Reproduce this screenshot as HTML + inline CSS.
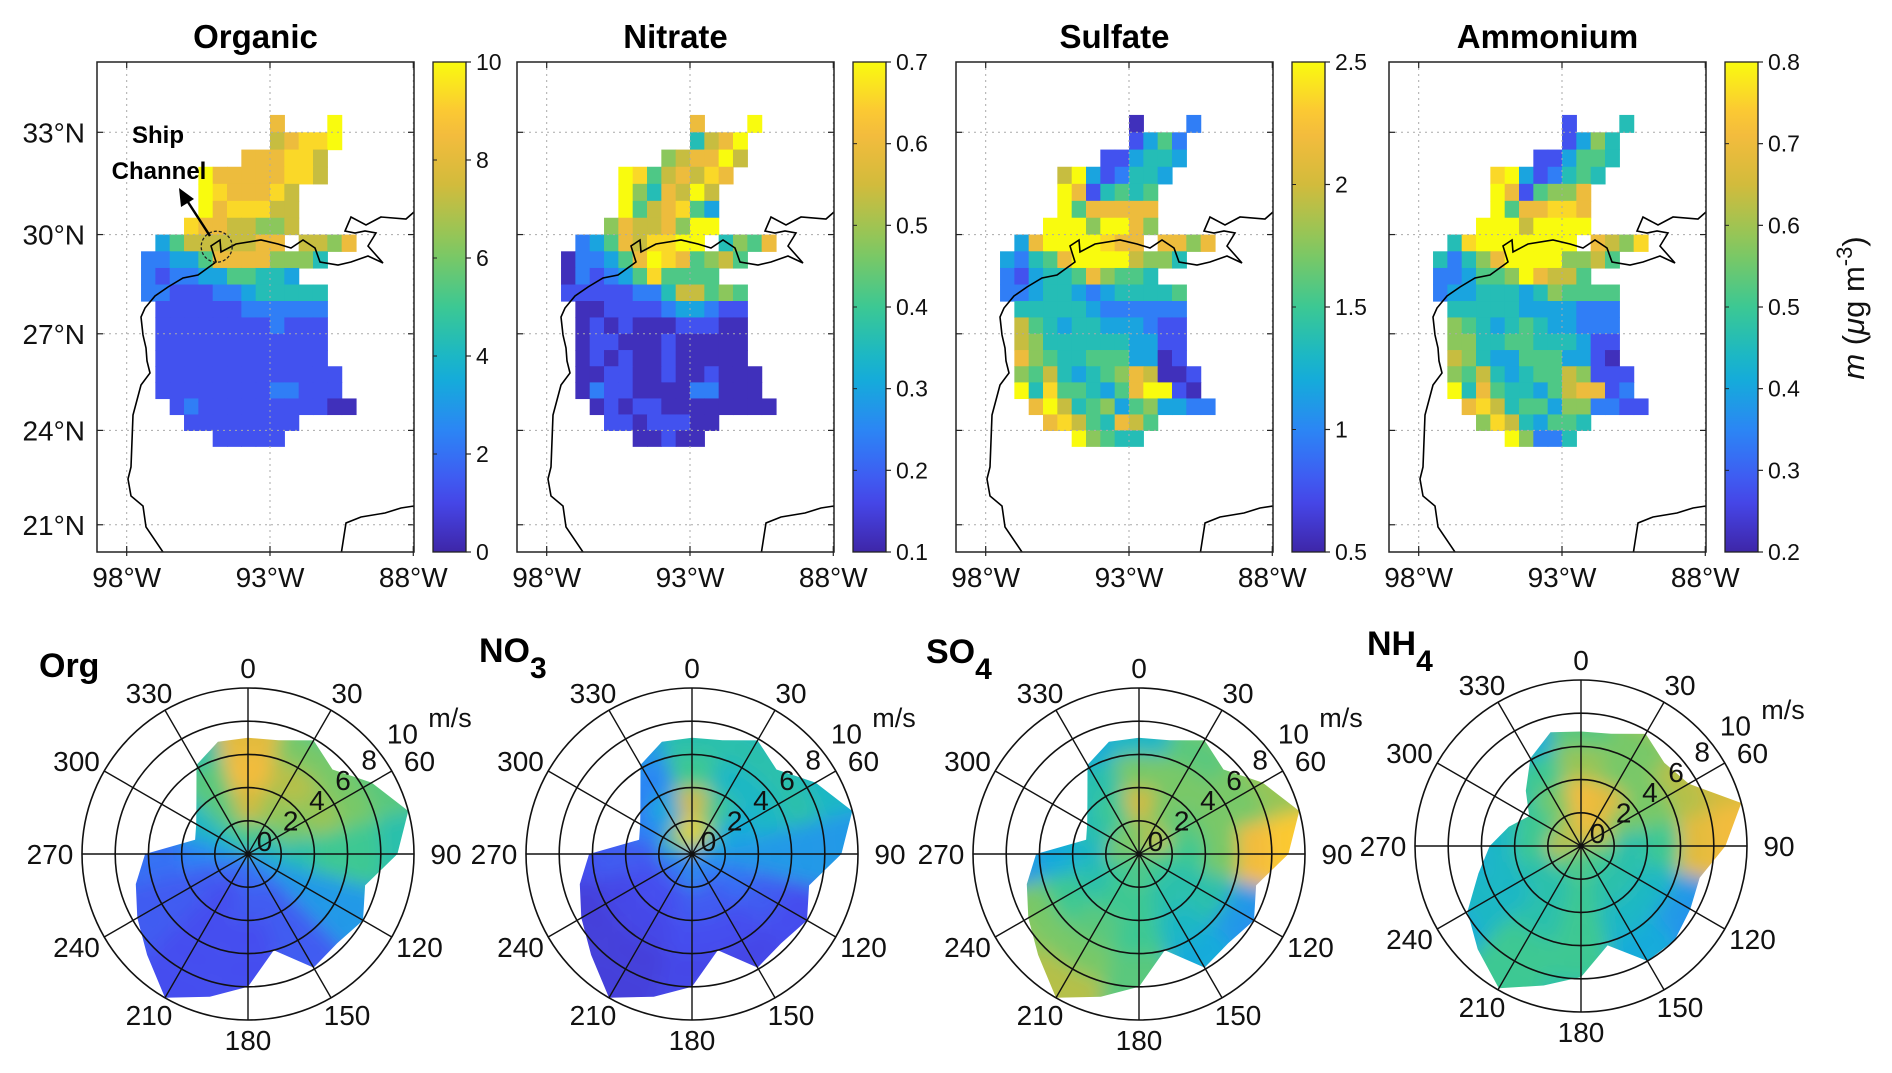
<!DOCTYPE html>
<html><head><meta charset="utf-8"><style>
html,body{margin:0;padding:0;background:#fff;}
svg{display:block;font-family:"Liberation Sans",Arial,sans-serif;}
</style></head><body>
<svg id="fig" width="1892" height="1073" viewBox="0 0 1892 1073" xmlns="http://www.w3.org/2000/svg">
<defs>
<filter id="blur" x="-20%" y="-20%" width="140%" height="140%"><feGaussianBlur stdDeviation="9"/></filter>
</defs>
</svg>
<script>
// ---------- map data (level codes: '.' empty, 0-9 -> d/10 of range, 'a' -> max) ----------
const orgRows = [
".........8...a.",".........7899a.",".......888997..","....a88888997..",
"....a988897....","....a899977....","...98877667....",".357777788.7768",
"2233588886664..","21223355443....","2211122344444..",".111111222222..",
".111111112111..",".111111111111..",".111111111111..",".1111111111111.",
".1111111122111.","..1211111111100","...11111111....",".....11111....."];
const no3Rows = [
".........8...a.",".........478a..",".......6788a7..","....a9578798...",
"....a6487a7....","....a578953....","...687786aa....",".2358799aa.4658",
"022358a985675..","02123595555....","1111122477565..",".001111233211..",
".010100011100..",".011000100000..",".010100100000..",".0011001001000.",
".0211000022000.","..0101100000000","...11011100....",".....00100....."];
const so4Rows = [
".........0...2.",".........1352..",".......113443..","....7a312443...",
"....a814545....","....a588888....","...aaa6aa86....",".38aaaa988.8868",
"32458aaaa7664..","21344586554....","2234432344445..",".444443222222..",
".754344333211..",".764444443311..",".865445553301..",".6574345687001.",
".a49554358aa10.","..8a74563563322","...89754875....",".....a6544....."];
const nh4Rows = [
".........1...4.",".........1364..",".......113554..","....9a312454...",
"....a815668....","....a588998....","...aaa7aaaa....",".49aaaaaaa.8769",
"42468aaaa6675..","223556a8775....","2334443465555..",".444443333222..",
".654345433222..",".664455444311..",".764335553310..",".6574345576111.",
".a485443578812.","..8974553662211","...69743554....",".....a6224....."];
const mapTitles = ["Organic","Nitrate","Sulfate","Ammonium"];
const mapMin = [0,0.1,0.5,0.2];
const mapMax = [10,0.7,2.5,0.8];
const cbTicks = [[0,2,4,6,8,10],[0.1,0.2,0.3,0.4,0.5,0.6,0.7],[0.5,1,1.5,2,2.5],[0.2,0.3,0.4,0.5,0.6,0.7,0.8]];
const latTicks = [21,24,27,30,33];
const lonTicks = [98,93,88];

// ---------- polar data ----------
const polarTitles = ["Org","NO","SO","NH"];
const polarSubs = ["","3","4","4"];
const bearingLabels = [0,30,60,90,120,150,180,210,240,270,300,330];
const speedLabels = [0,2,4,6,8,10];
const boundA = [7,7.1,7.9,7.2,8.6,10,9,7.3,8,7.6,7.9,6,8,8.9,10,8.6,7.7,7,6.2,3.3,3.6,4.4,6.2,7];
const boundNH4 = [6.9,7,7.8,7.1,7.5,10,8.7,7.4,7.6,8,8,6.2,7.9,8.7,9.9,8.8,7.9,6.4,5.5,4.5,3.6,4.7,6.1,7.1];
const orgGrid = [[0.55,0.75,0.85,0.8,0.6],[0.5,0.65,0.7,0.6,0.5],[0.45,0.6,0.65,0.6,0.55],[0.4,0.45,0.5,0.5,0.45],[0.3,0.3,0.3,0.3,0.3],[0.2,0.15,0.15,0.15,0.15],[0.2,0.15,0.12,0.12,0.12],[0.15,0.12,0.12,0.12,0.12],[0.2,0.15,0.15,0.15,0.15],[0.3,0.25,0.2,0.2,0.2],[0.4,0.4,0.4,0.4,0.4],[0.5,0.55,0.55,0.45,0.4]];
const no3Grid = [[0.95,0.75,0.5,0.45,0.35],[0.7,0.5,0.4,0.45,0.4],[0.4,0.35,0.4,0.45,0.4],[0.3,0.3,0.3,0.3,0.3],[0.25,0.2,0.15,0.12,0.1],[0.2,0.15,0.12,0.1,0.1],[0.3,0.15,0.12,0.1,0.1],[0.2,0.12,0.1,0.08,0.08],[0.2,0.12,0.1,0.08,0.08],[0.3,0.15,0.15,0.12,0.1],[0.5,0.25,0.2,0.15,0.15],[0.7,0.35,0.25,0.3,0.3]];
const so4Grid = [[0.6,0.75,0.6,0.4,0.2],[0.7,0.6,0.6,0.55,0.6],[0.75,0.55,0.6,0.6,0.65],[0.55,0.5,0.6,0.85,0.9],[0.5,0.45,0.45,0.3,0.25],[0.5,0.45,0.4,0.35,0.35],[0.55,0.5,0.5,0.55,0.55],[0.5,0.5,0.55,0.6,0.7],[0.5,0.45,0.5,0.6,0.65],[0.6,0.4,0.35,0.3,0.3],[0.6,0.45,0.4,0.4,0.4],[0.6,0.5,0.45,0.35,0.3]];
const nh4Grid = [[0.85,0.85,0.65,0.55,0.4],[0.8,0.8,0.6,0.6,0.7],[0.75,0.6,0.6,0.7,0.75],[0.6,0.45,0.5,0.8,0.85],[0.5,0.45,0.4,0.3,0.25],[0.5,0.45,0.4,0.35,0.35],[0.55,0.5,0.5,0.5,0.45],[0.5,0.45,0.45,0.5,0.5],[0.6,0.45,0.4,0.4,0.35],[0.75,0.5,0.4,0.35,0.35],[0.65,0.5,0.45,0.4,0.4],[0.7,0.6,0.5,0.35,0.25]];

// ---------- basemap geometry (map-1 pixel coords) ----------
const coastMain = [[165,555],[146,527],[143,506],[131,496],[128,479],[131,467],[133,415],[141,385],[150,373],[147,361],[146,348],[143,335],[141,317],[145,308],[155,296],[168,287],[183,278],[198,275],[216,262],[211,246],[220,240],[221,252],[236,244],[261,240],[278,244],[291,248],[303,240],[315,248],[320,262],[338,265],[351,262],[368,256],[383,263],[368,246],[376,233],[365,231],[355,233],[345,231],[351,217],[366,225],[381,217],[406,219],[414,212]];
const coastYuc = [[341,555],[346,523],[361,517],[385,513],[401,508],[414,506]];

const NS="http://www.w3.org/2000/svg";
const svg=document.getElementById('fig');
function el(tag,attrs,parent){const e=document.createElementNS(NS,tag);for(const k in attrs)e.setAttribute(k,attrs[k]);(parent||svg).appendChild(e);return e;}
function txt(s,attrs,parent){const e=el('text',attrs,parent);e.textContent=s;return e;}

const pStops=[[0,[62,38,168]],[0.111,[70,74,238]],[0.238,[46,130,247]],[0.365,[18,177,214]],[0.492,[55,200,151]],[0.619,[132,200,95]],[0.746,[209,187,60]],[0.873,[251,188,61]],[1,[249,251,14]]];
function parula(t){t=Math.max(0,Math.min(1,t));for(let i=1;i<pStops.length;i++){if(t<=pStops[i][0]){const a=pStops[i-1],b=pStops[i];const f=(t-a[0])/(b[0]-a[0]);const c=a[1].map((v,j)=>Math.round(v+(b[1][j]-v)*f));return 'rgb('+c.join(',')+')';}}return 'rgb(249,251,14)';}

const defs=svg.querySelector('defs');
const lg=el('linearGradient',{id:'parulaGrad',x1:0,y1:1,x2:0,y2:0},defs);
for(let i=0;i<=20;i++){el('stop',{offset:(i/20),'stop-color':parula(i/20)},lg);}

function merc(lat){const r=lat*Math.PI/180;return Math.log(Math.tan(Math.PI/4+r/2));}
function yLat(lat){return 132.3+(merc(33)-merc(lat))*1665;}
function xLon(lonW){return 270-(lonW-93)*28.66;}
const MAPL=97,MAPR=414,MAPT=62,MAPB=552;
const offsets=[0,420,859,1292];
const allRows=[orgRows,no3Rows,so4Rows,nh4Rows];
function level(ch){if(ch==='.'||ch===undefined)return null;if(ch==='a')return 1;return parseInt(ch,10)/10+0.03;}

for(let p=0;p<4;p++){
  const off=offsets[p];
  const g=el('g',{transform:'translate('+off+',0)'});
  
  
  const cp=el('clipPath',{id:'mclip'+p},defs);
  el('rect',{x:MAPL,y:MAPT,width:MAPR-MAPL,height:MAPB-MAPT},cp);
  const cells=el('g',{'clip-path':'url(#mclip'+p+')'},g);
  
  
  const rows=allRows[p];
  for(let r=0;r<rows.length;r++){
    for(let c=0;c<15;c++){
      const lv=level(rows[r][c]); if(lv===null)continue;
      const value=mapMin[p]+lv*(mapMax[p]-mapMin[p]);
      const t=(value-mapMin[p])/(mapMax[p]-mapMin[p]);
      const lonW=97.5-0.5*c, latT=33.5-0.5*r;
      const x0=xLon(lonW), x1=xLon(lonW-0.5), y0=yLat(latT), y1=yLat(latT-0.5);
      const rc=el('rect',{x:x0,y:y0,width:x1-x0+0.6,height:y1-y0+0.6,fill:parula(t)},cells);
      
      
    }
  }
  for(const la of latTicks){const y=yLat(la);const l=el('line',{x1:MAPL,x2:MAPR,y1:y,y2:y,stroke:'#aaa','stroke-width':1,'stroke-dasharray':'2,4'},g);
    el('line',{x1:MAPL,x2:MAPL+6,y1:y,y2:y,stroke:'#222','stroke-width':1.2},g);el('line',{x1:MAPR-6,x2:MAPR,y1:y,y2:y,stroke:'#222','stroke-width':1.2},g);
    if(p===0){const t=txt(la+'°N',{x:MAPL-12,y:y+10,'font-size':28,'text-anchor':'end',fill:'#111'},g);}
  }
  for(const lo of lonTicks){const x=xLon(lo);const l=el('line',{x1:x,x2:x,y1:MAPT,y2:MAPB,stroke:'#aaa','stroke-width':1,'stroke-dasharray':'2,4'},g);
    el('line',{x1:x,x2:x,y1:MAPT,y2:MAPT+6,stroke:'#222','stroke-width':1.2},g);el('line',{x1:x,x2:x,y1:MAPB-6,y2:MAPB+4,stroke:'#222','stroke-width':1.2},g);
    const t=txt(lo+'°W',{x:x,y:587,'font-size':28,'text-anchor':'middle',fill:'#111'},g);
  }
  const cg=el('g',{'clip-path':'url(#mclip'+p+')'},g);
  const c1=el('polyline',{points:coastMain.map(q=>q.join(',')).join(' '),fill:'none',stroke:'#000','stroke-width':1.6},cg);
  
  const c2=el('polyline',{points:coastYuc.map(q=>q.join(',')).join(' '),fill:'none',stroke:'#000','stroke-width':1.6},cg);
  
  const fr=el('rect',{x:MAPL,y:MAPT,width:MAPR-MAPL,height:MAPB-MAPT,fill:'none',stroke:'#222','stroke-width':1.5},g);
  
  const tt=txt(mapTitles[p],{x:(MAPL+MAPR)/2,y:48,'font-size':33,'font-weight':'bold','text-anchor':'middle',fill:'#000'},g);
  
  const CBL=433,CBR=466;
  const cb=el('rect',{x:CBL,y:MAPT,width:CBR-CBL,height:MAPB-MAPT,fill:'url(#parulaGrad)',stroke:'#222','stroke-width':1.3},g);
  
  for(const v of cbTicks[p]){
    const y=MAPB-(v-mapMin[p])/(mapMax[p]-mapMin[p])*(MAPB-MAPT);
    el('line',{x1:CBR,x2:CBR+5,y1:y,y2:y,stroke:'#222','stroke-width':1.2},g);
    el('line',{x1:CBL,x2:CBL+4,y1:y,y2:y,stroke:'#222','stroke-width':1},g);
    const t=txt(String(v),{x:CBR+10,y:y+8,'font-size':23,fill:'#111'},g);
    
  }
}
(function(){
  const g=el('g',{});
  el('circle',{cx:216.7,cy:246.7,r:15.5,fill:'none',stroke:'#222','stroke-width':1.3,'stroke-dasharray':'3,2'},g);
  el('line',{x1:210,y1:236,x2:186,y2:199,stroke:'#000','stroke-width':2.5},g);
  el('polygon',{points:'179,188 181,207 194,199',fill:'#000'},g);
  txt('Ship',{x:158,y:143,'font-size':24,'font-weight':'bold','text-anchor':'middle'},g);
  txt('Channel',{x:159,y:179,'font-size':24,'font-weight':'bold','text-anchor':'middle'},g);
})();
(function(){
  const t=el('text',{x:0,y:0,'font-size':31,'text-anchor':'middle',transform:'translate(1864,308) rotate(-90)',fill:'#111'});
  
  const a=el('tspan',{'font-style':'italic'},t);a.textContent='m';
  const b=el('tspan',{},t);b.textContent=' (';
  const c=el('tspan',{'font-style':'italic'},t);c.textContent='μ';
  const d=el('tspan',{},t);d.textContent='g m';
  const e=el('tspan',{dy:-12,'font-size':22},t);e.textContent='-3';
  const f=el('tspan',{dy:12},t);f.textContent=')';
})();

const pCx=[248,692,1139,1581];
const pCy=[854,854,854,846];
const grids=[orgGrid,no3Grid,so4Grid,nh4Grid];
const bounds=[boundA,boundA,boundA,boundNH4];
const titleX=[39,479,926,1367];
const titleY=[677,662,663,655];
const R=166, VMAX=10;
function rS(v){return v/VMAX*R;}
function pt(cx,cy,deg,r){const a=deg*Math.PI/180;return [cx+r*Math.sin(a),cy-r*Math.cos(a)];}
function sector(cx,cy,d0,d1,r0,r1){
  const n=8;let s='';
  for(let i=0;i<=n;i++){const q=pt(cx,cy,d0+(d1-d0)*i/n,r1);s+=(i?'L':'M')+q[0].toFixed(1)+','+q[1].toFixed(1);}
  for(let i=n;i>=0;i--){const q=pt(cx,cy,d0+(d1-d0)*i/n,r0);s+='L'+q[0].toFixed(1)+','+q[1].toFixed(1);}
  return s+'Z';
}
for(let p=0;p<4;p++){
  const cx=pCx[p],cy=pCy[p];
  const g=el('g',{});
  
  
  const cp=el('clipPath',{id:'pclip'+p},defs);
  const bd=bounds[p];
  const poly=bd.map((v,i)=>pt(cx,cy,i*15,rS(v)).map(n=>n.toFixed(1)).join(',')).join(' ');
  el('polygon',{points:poly},cp);
  const clipG=el('g',{'clip-path':'url(#pclip'+p+')'},g);
  
  
  const blurG=el('g',{filter:'url(#blur)'},clipG);
  const gr=grids[p];
  for(let d=0;d<12;d++){
    for(let b=0;b<5;b++){
      const r0=b===0?0:rS(b*2), r1=b===4?rS(11.5):rS((b+1)*2);
      const s=el('path',{d:sector(cx,cy,d*30-15,d*30+15,r0,r1),fill:parula(gr[d][b])},blurG);
      
      
    }
  }
  for(let k=1;k<=5;k++){const c=el('circle',{cx:cx,cy:cy,r:rS(k*2),fill:'none',stroke:'#111','stroke-width':1.6},g);}
  for(const bdeg of bearingLabels){
    const q=pt(cx,cy,bdeg,R);
    const l=el('line',{x1:cx,y1:cy,x2:q[0],y2:q[1],stroke:'#111','stroke-width':1.4},g);
    
    const a=bdeg*Math.PI/180;
    const lx=cx+Math.sin(a)*198, ly=cy-Math.cos(a)*186;
    const t=txt(String(bdeg),{x:lx,y:ly+10,'font-size':28,'text-anchor':'middle',fill:'#111'},g);
    
  }
  for(let k=0;k<speedLabels.length;k++){
    const rr=(k<5?21+k*33.2:196);
    const q=pt(cx,cy,52,rr);
    const t=txt(String(speedLabels[k]),{x:q[0],y:q[1]+10,'font-size':28,'text-anchor':'middle',fill:'#111'},g);
    
  }
  const ms=txt('m/s',{x:cx+202,y:cy-127,'font-size':27,'text-anchor':'middle',fill:'#111'},g);
  
  el('circle',{cx:cx,cy:cy,r:2.5,fill:'#111'},g);
  const t=el('text',{x:titleX[p],y:titleY[p],'font-size':34,'font-weight':'bold',fill:'#000'},g);
  
  const t1=el('tspan',{},t);t1.textContent=polarTitles[p];
  if(polarSubs[p]){const t2=el('tspan',{dy:16,'font-size':30},t);t2.textContent=polarSubs[p];}
}
</script>
</body></html>
